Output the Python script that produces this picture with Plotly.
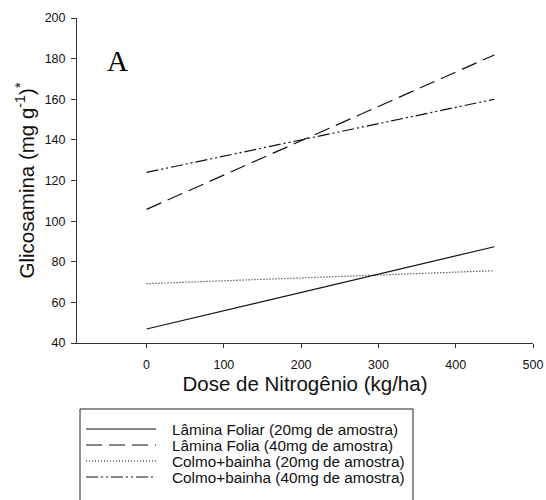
import plotly.graph_objects as go

# Data
dose = [0, 450]
lamina_20 = [46.9, 87.4]
lamina_40 = [105.8, 181.8]
colmo_20 = [69.2, 75.6]
colmo_40 = [124.0, 160.0]

series_names = [
    "Lâmina Foliar (20mg de amostra)",
    "Lâmina Folia (40mg de amostra)",
    "Colmo+bainha (20mg de amostra)",
    "Colmo+bainha (40mg de amostra)",
]
series_values = [lamina_20, lamina_40, colmo_20, colmo_40]
x_ticks = [0, 100, 200, 300, 400, 500]
y_ticks = [40, 60, 80, 100, 120, 140, 160, 180, 200]

dashes = ["solid", "16px,7px", "1px,2px", "12px,3px,2px,3px,2px,3px"]
line_color = "#111111"

W, H = 546, 500
ML, MR, MT, MB = 77, 13, 18, 157
PW, PH = W - ML - MR, H - MT - MB


def px(xp):
    return (xp - ML) / PW


def py(yp):
    return (H - MB - yp) / PH


fig = go.Figure()
for name, vals, d in zip(series_names, series_values, dashes):
    fig.add_trace(go.Scatter(
        x=dose, y=vals, mode="lines", name=name, showlegend=False,
        line=dict(color=line_color, width=1.2, dash=d),
    ))

shapes = []
annotations = []
# legend box
shapes.append(dict(type="rect", xref="paper", yref="paper",
                   x0=px(80), x1=px(413), y0=py(520), y1=py(409),
                   line=dict(color="#222", width=1), fillcolor="rgba(0,0,0,0)"))
row_y = [429, 445, 461, 477]
for name, d, ry in zip(series_names, dashes, row_y):
    shapes.append(dict(type="line", xref="paper", yref="paper",
                       x0=px(86), x1=px(156), y0=py(ry), y1=py(ry),
                       line=dict(color=line_color, width=1.2, dash=d)))
    annotations.append(dict(text=name, xref="paper", yref="paper",
                            x=px(170), y=py(ry), xanchor="left", yanchor="middle",
                            showarrow=False,
                            font=dict(family="Liberation Sans, Arial", size=15.3, color="#111")))

annotations.append(dict(text="A", xref="paper", yref="paper",
                        x=px(117), y=py(61), xanchor="center", yanchor="middle",
                        showarrow=False,
                        font=dict(family="Liberation Serif, Times New Roman", size=29, color="#000")))

fig.update_layout(
    width=W, height=H,
    margin=dict(l=ML, r=MR, t=MT, b=MB, pad=0, autoexpand=False),
    paper_bgcolor="white", plot_bgcolor="white",
    font=dict(family="Liberation Sans, Arial", color="#111"),
    shapes=shapes, annotations=annotations,
    showlegend=False,
)
fig.update_xaxes(
    range=[-90, 500], tickvals=x_ticks, ticks="outside", ticklen=4,
    tickcolor="#333", showline=True, linecolor="#333", linewidth=1,
    showgrid=False, zeroline=False, tickfont=dict(size=12.5), automargin=False,
    ticklabelstandoff=6,
    title=dict(text="Dose de Nitrogênio (kg/ha)", font=dict(size=20.5), standoff=2),
)
fig.update_yaxes(
    range=[40, 200], tickvals=y_ticks, ticks="outside", ticklen=5,
    tickcolor="#333", showline=True, linecolor="#333", linewidth=1,
    showgrid=False, zeroline=False, tickfont=dict(size=12.5), automargin=False,
    ticklabelstandoff=3,
    title=dict(text="Glicosamina (mg g<sup>-1</sup>)<sup>*</sup>", font=dict(size=20.5), standoff=4),
)

fig.write_html("out.html")
